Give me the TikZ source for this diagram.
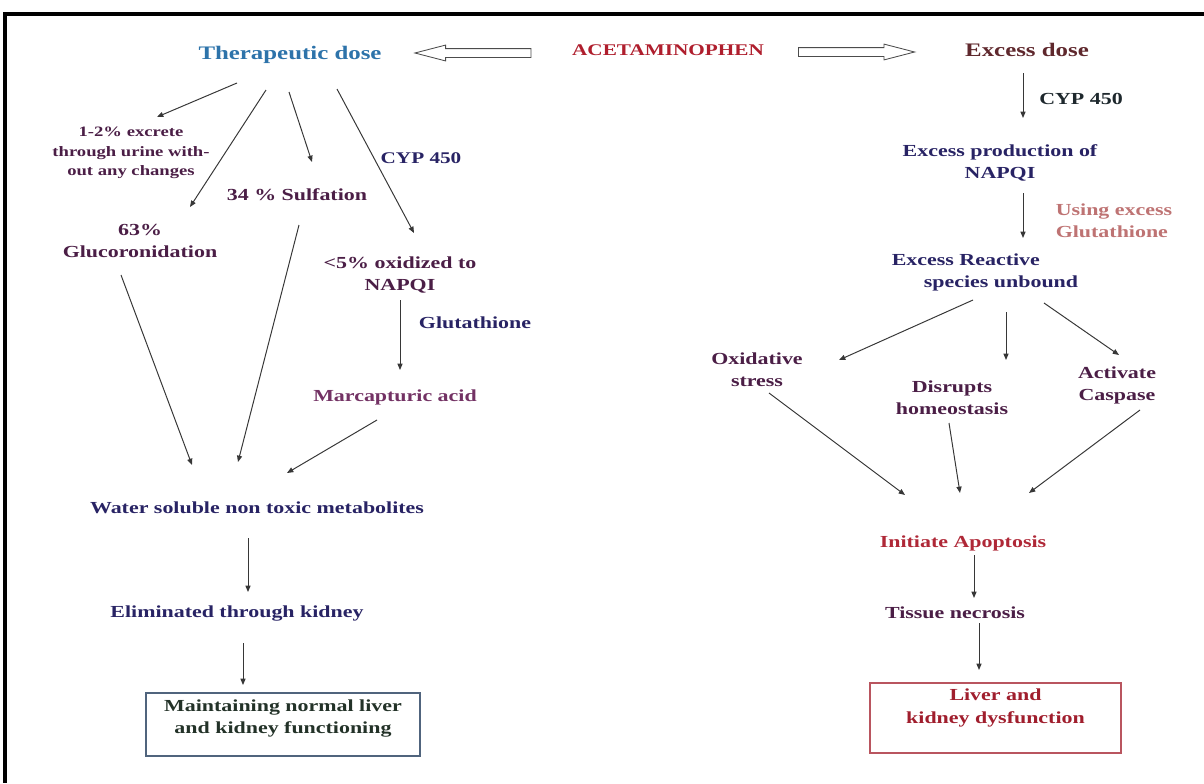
\documentclass[tikz,border=0pt]{standalone}
\usepackage{fontspec}
\setmainfont{Liberation Serif}[FakeStretch=1.3]
\usetikzlibrary{arrows.meta,calc,shapes.arrows}
\definecolor{therblue}{RGB}{45,115,170}
\definecolor{acetred}{RGB}{175,30,45}
\definecolor{excbrown}{RGB}{95,40,45}
\definecolor{navy}{RGB}{40,35,100}
\definecolor{plum}{RGB}{75,30,70}
\definecolor{lplum}{RGB}{115,50,100}
\definecolor{pinkish}{RGB}{190,115,115}
\definecolor{darkgrn}{RGB}{35,50,40}
\definecolor{ink}{RGB}{30,40,45}
\definecolor{apored}{RGB}{175,40,55}
\definecolor{livtxt}{RGB}{160,30,45}
\definecolor{livred}{RGB}{185,85,95}
\definecolor{mntblue}{RGB}{80,100,125}
\definecolor{lineg}{RGB}{55,55,55}
\begin{document}
\begin{tikzpicture}[x=0.025cm,y=-0.025cm,
  txt/.style={font=\bfseries\fontsize{12}{15.6}\selectfont, align=center, inner sep=1pt},
  big/.style={font=\bfseries\fontsize{13.6}{16}\selectfont, inner sep=1pt},
  arr/.style={-{Triangle[length=4.5pt,width=3.6pt]}, draw=lineg, line width=0.7pt},
  hollow/.style={single arrow, draw=black!70, fill=white, line width=0.6pt, inner xsep=0pt, inner ysep=0.1cm,
    single arrow head extend=0.0875cm, single arrow tip angle=29, minimum height=2.9cm},
  outcome/.style={txt, draw, line width=0.9pt}]
\useasboundingbox (0,0) rectangle (1204,783);
\draw[line width=2.2pt] (1204,14) -- (5,14) -- (5,783);

\node[big, text=therblue] (ther) at (290,55) {Therapeutic dose};
\node[txt, text=acetred, font=\bfseries\fontsize{11.6}{14}\selectfont] (acet) at (668,50) {ACETAMINOPHEN};
\node[big, text=excbrown] (exc) at (1027,50) {Excess dose};
\node[hollow, shape border rotate=180] (larr) at (481.5,53) {};
\node[hollow] (rarr) at (848,52) {};

\node[txt, text=plum, font=\bfseries\fontsize{10.2}{13.9}\selectfont] (uri) at (131,153) {1-2\% excrete\\through urine with-\\out any changes};
\node[txt, text=plum] (sulf) at (297,195) {34 \% Sulfation};
\node[txt, text=plum] (gluc) at (140,241) {63\%\\Glucoronidation};
\node[txt, text=navy, font=\bfseries\fontsize{11.6}{14}\selectfont] (cypl) at (421,158) {CYP 450};
\node[txt, text=plum] (napq) at (400,275) {<5\% oxidized to\\NAPQI};
\node[txt, text=navy] (glut) at (475,323) {Glutathione};
\node[txt, text=lplum] (marc) at (395,397) {Marcapturic acid};
\node[txt, text=navy] (wat) at (257,508) {Water soluble non toxic metabolites};
\node[txt, text=navy] (elim) at (237,613) {Eliminated through kidney};
\node[outcome, draw=mntblue, text=darkgrn, minimum width=6.85cm, minimum height=1.575cm] (mnt) at (283,724.5) {Maintaining normal liver\\and kidney functioning\\[-4.8pt]\mbox{}};

\node[txt, text=ink] (cypr) at (1081,99) {CYP 450};
\node[txt, text=navy] (prod) at (1000,163) {Excess production of\\NAPQI};
\node[txt, text=pinkish, align=left] (use) at (1114,221) {Using excess\\Glutathione};
\node[txt, text=navy, align=left] (reac) at (985,272.5) {Excess Reactive\\\hspace*{22.8pt}species unbound};
\node[txt, text=plum] (oxi) at (757,369.5) {Oxidative\\stress};
\node[txt, text=plum] (dis) at (952,397.5) {Disrupts\\homeostasis};
\node[txt, text=plum] (act) at (1117,385.5) {Activate\\Caspase};
\node[txt, text=apored] (apo) at (963,543) {Initiate Apoptosis};
\node[txt, text=plum] (nec) at (955,613) {Tissue necrosis};
\node[outcome, draw=livred, text=livtxt, font=\bfseries\fontsize{12}{16.4}\selectfont, minimum width=6.275cm, minimum height=1.75cm] (liv) at (995.5,718) {Liver and\\kidney dysfunction\\\mbox{}};

\draw[arr] ($(ther)+(-53,28)$) -- ($(uri)+(26,-36)$);
\draw[arr] ($(ther)+(-24,35)$) -- ($(gluc)+(50,-34)$);
\draw[arr] ($(ther)+(-1,37)$) -- ($(sulf)+(15,-33)$);
\draw[arr] ($(ther)+(47,34)$) -- ($(napq)+(14,-42)$);
\draw[arr] ($(gluc)+(-19,34)$) -- ($(wat)+(-65,-43)$);
\draw[arr] ($(sulf)+(2,30)$) -- ($(wat)+(-19,-46)$);
\draw[arr] ($(napq)+(0,25)$) -- ($(marc)+(5,-27)$);
\draw[arr] ($(marc)+(-18,23)$) -- ($(wat)+(30,-35)$);
\draw[arr] ($(wat)+(-9,30)$) -- ($(elim)+(11,-21)$);
\draw[arr] ($(elim)+(6,30)$) -- ($(mnt)+(-40,-39.5)$);

\draw[arr] ($(exc)+(-4,23)$) -- ($(prod)+(23,-45)$);
\draw[arr] ($(prod)+(23,30)$) -- ($(reac)+(38,-34.5)$);
\draw[arr] ($(reac)+(-12,27.5)$) -- ($(oxi)+(82,-9.5)$);
\draw[arr] ($(reac)+(21,39.5)$) -- ($(dis)+(54,-37.5)$);
\draw[arr] ($(reac)+(59,30.5)$) -- ($(act)+(2,-30.5)$);
\draw[arr] ($(oxi)+(12,23.5)$) -- ($(apo)+(-58,-48)$);
\draw[arr] ($(dis)+(-3,25.5)$) -- ($(apo)+(-3,-50)$);
\draw[arr] ($(act)+(23,24.5)$) -- ($(apo)+(66,-50)$);
\draw[arr] ($(apo)+(11,12)$) -- ($(nec)+(19,-15)$);
\draw[arr] ($(nec)+(24,10)$) -- ($(liv)+(-16.5,-48)$);
\end{tikzpicture}
\end{document}
